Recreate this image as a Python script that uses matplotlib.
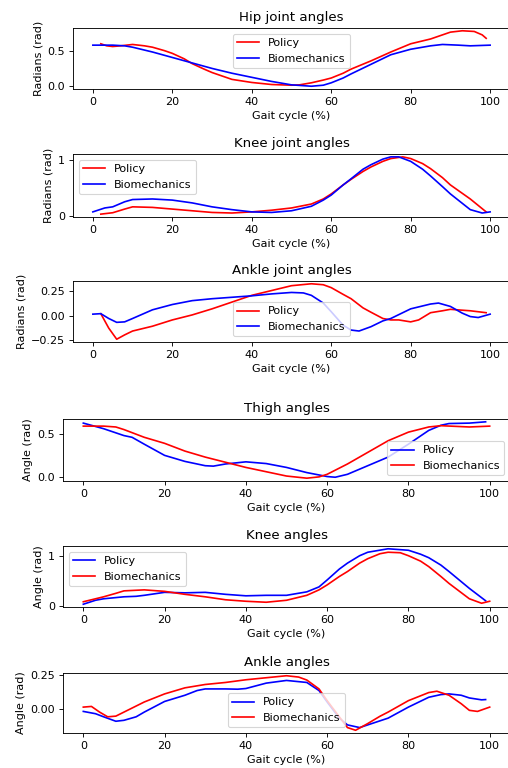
import matplotlib
matplotlib.use("Agg")
import matplotlib.pyplot as plt

# ---------- data ----------
# Hip joint angles
hip_pol_x = [2, 3.5, 5, 7, 10, 13, 15, 18, 20, 23, 25, 28, 30, 33, 35, 40, 45, 50, 52, 55, 58, 60, 63, 65, 70, 75, 80, 85, 88, 90, 93, 96, 98, 99]
hip_pol_y = [0.61, 0.58, 0.57, 0.58, 0.60, 0.58, 0.56, 0.51, 0.47, 0.39, 0.32, 0.24, 0.19, 0.13, 0.09, 0.045, 0.015, 0.005, 0.01, 0.04, 0.08, 0.11, 0.18, 0.24, 0.36, 0.49, 0.61, 0.68, 0.74, 0.78, 0.80, 0.79, 0.74, 0.69]
hip_bio_x = [0, 5, 8, 10, 15, 20, 25, 30, 35, 40, 45, 50, 55, 58, 60, 63, 65, 70, 75, 80, 85, 88, 92, 95, 100]
hip_bio_y = [0.59, 0.59, 0.58, 0.56, 0.49, 0.41, 0.33, 0.25, 0.18, 0.12, 0.06, 0.01, -0.01, 0.005, 0.04, 0.11, 0.17, 0.31, 0.45, 0.53, 0.58, 0.60, 0.59, 0.58, 0.59]

# Knee joint angles
knee_pol_x = [2, 5, 8, 10, 15, 20, 25, 30, 35, 40, 45, 50, 55, 58, 60, 63, 65, 68, 70, 73, 75, 78, 80, 83, 85, 88, 90, 95, 99]
knee_pol_y = [0.04, 0.065, 0.13, 0.17, 0.16, 0.13, 0.10, 0.07, 0.06, 0.08, 0.11, 0.15, 0.22, 0.31, 0.40, 0.56, 0.66, 0.80, 0.88, 0.98, 1.03, 1.06, 1.03, 0.94, 0.85, 0.69, 0.56, 0.31, 0.08]
knee_bio_x = [0, 3, 5, 8, 10, 15, 20, 25, 30, 35, 40, 45, 50, 55, 58, 60, 63, 65, 68, 70, 73, 75, 77, 80, 83, 85, 88, 90, 95, 98, 100]
knee_bio_y = [0.08, 0.15, 0.17, 0.26, 0.30, 0.31, 0.29, 0.24, 0.17, 0.12, 0.08, 0.07, 0.10, 0.18, 0.29, 0.38, 0.56, 0.67, 0.84, 0.92, 1.02, 1.06, 1.06, 0.98, 0.84, 0.72, 0.53, 0.40, 0.12, 0.06, 0.08]

# Ankle joint angles
ankle_pol_x = [2, 4, 6, 8, 10, 15, 20, 25, 30, 35, 40, 45, 50, 55, 58, 60, 63, 65, 68, 70, 73, 75, 77, 80, 82, 85, 88, 90, 95, 99]
ankle_pol_y = [0.02, -0.13, -0.245, -0.20, -0.16, -0.11, -0.045, 0.007, 0.07, 0.14, 0.21, 0.26, 0.31, 0.33, 0.32, 0.29, 0.22, 0.175, 0.08, 0.035, -0.03, -0.045, -0.045, -0.065, -0.045, 0.03, 0.05, 0.065, 0.05, 0.03]
ankle_bio_x = [0, 2, 4, 6, 8, 10, 15, 20, 25, 30, 35, 40, 45, 50, 53, 55, 58, 60, 63, 65, 67, 70, 73, 75, 80, 85, 87, 90, 93, 95, 97, 100]
ankle_bio_y = [0.015, 0.02, -0.03, -0.07, -0.065, -0.03, 0.06, 0.115, 0.155, 0.175, 0.19, 0.205, 0.225, 0.24, 0.235, 0.21, 0.13, 0.04, -0.10, -0.15, -0.16, -0.115, -0.055, -0.03, 0.07, 0.12, 0.13, 0.095, 0.025, -0.01, -0.02, 0.015]

# Thigh angles
thigh_pol_x = [0, 5, 10, 12, 15, 20, 25, 30, 32, 35, 40, 45, 50, 55, 60, 62, 65, 70, 75, 80, 85, 88, 90, 95, 99]
thigh_pol_y = [0.625, 0.56, 0.48, 0.46, 0.38, 0.25, 0.18, 0.13, 0.125, 0.15, 0.175, 0.155, 0.11, 0.05, 0.004, -0.004, 0.03, 0.13, 0.23, 0.38, 0.54, 0.60, 0.62, 0.625, 0.64]
thigh_bio_x = [0, 5, 8, 10, 15, 20, 25, 30, 35, 40, 45, 50, 55, 58, 60, 65, 70, 75, 80, 85, 88, 95, 100]
thigh_bio_y = [0.59, 0.59, 0.58, 0.55, 0.46, 0.39, 0.30, 0.23, 0.17, 0.11, 0.06, 0.01, -0.015, 0.0, 0.03, 0.15, 0.285, 0.42, 0.52, 0.58, 0.595, 0.58, 0.59]

# Knee angles
kneeb_pol_x = [0, 3, 5, 10, 13, 15, 20, 25, 30, 35, 40, 45, 50, 55, 58, 60, 63, 65, 68, 70, 75, 80, 83, 85, 88, 90, 95, 99]
kneeb_pol_y = [0.03, 0.11, 0.14, 0.18, 0.19, 0.21, 0.27, 0.26, 0.27, 0.23, 0.20, 0.21, 0.21, 0.28, 0.38, 0.52, 0.74, 0.86, 1.01, 1.08, 1.15, 1.12, 1.04, 0.97, 0.82, 0.69, 0.35, 0.10]
kneeb_bio_x = [0, 5, 8, 10, 15, 20, 25, 30, 35, 40, 45, 50, 55, 58, 60, 63, 65, 68, 70, 73, 75, 78, 80, 83, 85, 88, 90, 95, 98, 100]
kneeb_bio_y = [0.08, 0.18, 0.25, 0.30, 0.32, 0.29, 0.23, 0.18, 0.12, 0.09, 0.07, 0.11, 0.21, 0.32, 0.42, 0.59, 0.69, 0.86, 0.95, 1.05, 1.08, 1.07, 1.01, 0.90, 0.79, 0.59, 0.45, 0.14, 0.05, 0.09]

# Ankle angles
ankleb_pol_x = [0, 3, 5, 8, 10, 13, 15, 20, 25, 28, 30, 35, 38, 40, 45, 50, 55, 58, 60, 63, 65, 68, 70, 75, 80, 85, 88, 90, 93, 95, 98, 99]
ankleb_pol_y = [-0.02, -0.037, -0.06, -0.093, -0.086, -0.06, -0.025, 0.054, 0.10, 0.135, 0.147, 0.147, 0.145, 0.15, 0.19, 0.21, 0.195, 0.135, 0.05, -0.07, -0.12, -0.14, -0.12, -0.07, 0.012, 0.085, 0.105, 0.11, 0.10, 0.08, 0.066, 0.068]
ankleb_bio_x = [0, 2, 4, 6, 8, 10, 15, 20, 25, 30, 35, 40, 45, 50, 53, 55, 58, 60, 63, 65, 67, 70, 73, 75, 80, 85, 87, 90, 93, 95, 97, 100]
ankleb_bio_y = [0.012, 0.017, -0.025, -0.06, -0.055, -0.025, 0.05, 0.11, 0.155, 0.18, 0.195, 0.215, 0.23, 0.245, 0.235, 0.213, 0.147, 0.06, -0.06, -0.14, -0.16, -0.11, -0.056, -0.025, 0.06, 0.12, 0.13, 0.10, 0.037, -0.012, -0.02, 0.012]

PANELS = [
    # title, ylabel, policy (x, y), biomechanics (x, y), policy colour, bio colour, legend loc
    ("Hip joint angles", "Radians (rad)", (hip_pol_x, hip_pol_y), (hip_bio_x, hip_bio_y), "r", "b", "upper center"),
    ("Knee joint angles", "Radians (rad)", (knee_pol_x, knee_pol_y), (knee_bio_x, knee_bio_y), "r", "b", "upper left"),
    ("Ankle joint angles", "Radians (rad)", (ankle_pol_x, ankle_pol_y), (ankle_bio_x, ankle_bio_y), "r", "b", "lower center"),
    ("Thigh angles", "Angle (rad)", (thigh_pol_x, thigh_pol_y), (thigh_bio_x, thigh_bio_y), "b", "r", "lower right"),
    ("Knee angles", "Angle (rad)", (kneeb_pol_x, kneeb_pol_y), (kneeb_bio_x, kneeb_bio_y), "b", "r", "upper left"),
    ("Ankle angles", "Angle (rad)", (ankleb_pol_x, ankleb_pol_y), (ankleb_bio_x, ankleb_bio_y), "b", "r", "lower center"),
]

# axes boxes in pixels: left, top, bottom (figure is 508x768 px)
W, H = 508, 768
DPI = 80
BOXES = [(73, 28, 89), (73, 154, 217), (73, 281, 342),
         (63, 419, 481), (63, 546, 607), (63, 673, 733)]

fig = plt.figure(figsize=(W / DPI, H / DPI), dpi=DPI)

for (title, ylabel, pol, bio, c_pol, c_bio, loc), (left, top, bottom) in zip(PANELS, BOXES):
    ax = fig.add_axes([left / W, 1 - bottom / H, (510 - left) / W, (bottom - top) / H])
    ax.plot(pol[0], pol[1], color=c_pol, label="Policy")
    ax.plot(bio[0], bio[1], color=c_bio, label="Biomechanics")
    ax.set_title(title)
    ax.set_xlabel("Gait cycle (%)")
    ax.set_ylabel(ylabel)
    ax.legend(loc=loc)

fig.savefig("out.png", dpi=DPI)
